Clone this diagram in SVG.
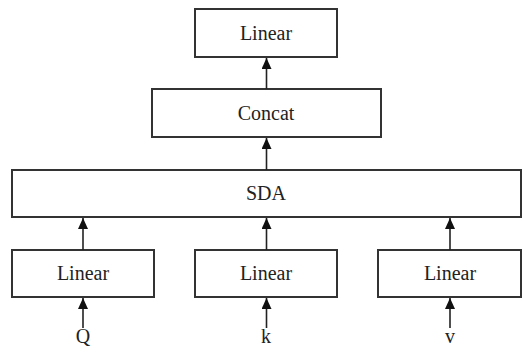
<svg xmlns="http://www.w3.org/2000/svg" width="532" height="348" viewBox="0 0 532 348">
<defs>
<marker id="ah" markerWidth="11" markerHeight="10" refX="11" refY="5" orient="auto" markerUnits="userSpaceOnUse" viewBox="0 0 11 10">
<path d="M0,0 L11,5 L0,10 Z" fill="#111"/>
</marker>
<style>
.box{fill:#fff;stroke:#333;stroke-width:2}
.lbl{font-family:"Liberation Serif","Times New Roman",serif;font-size:20px;fill:#222;text-anchor:middle}
.con{stroke:#222;stroke-width:1.6;fill:none;marker-end:url(#ah)}
</style>
</defs>
<rect width="532" height="348" fill="#fff"/>
<g id="linear-top"><rect class="box" x="195" y="9" width="142" height="48"/><text class="lbl" x="266" y="39.5">Linear</text></g>
<g id="concat"><rect class="box" x="152" y="89" width="229" height="48"/><text class="lbl" x="266" y="119.5">Concat</text></g>
<g id="sda"><rect class="box" x="12" y="170" width="509" height="47"/><text class="lbl" x="266" y="200">SDA</text></g>
<g id="linear-q"><rect class="box" x="12" y="250" width="142" height="47"/><text class="lbl" x="83" y="280">Linear</text></g>
<g id="linear-k"><rect class="box" x="195" y="250" width="142" height="47"/><text class="lbl" x="266" y="280">Linear</text></g>
<g id="linear-v"><rect class="box" x="378" y="250" width="143" height="47"/><text class="lbl" x="450" y="280">Linear</text></g>
<g id="input-q"><text class="lbl" x="83" y="343">Q</text></g>
<g id="input-k"><text class="lbl" x="266" y="343">k</text></g>
<g id="input-v"><text class="lbl" x="450" y="343">v</text></g>
<g id="connectors">
<line class="con" x1="266.5" y1="89" x2="266.5" y2="58"/>
<line class="con" x1="266.5" y1="170" x2="266.5" y2="138"/>
<line class="con" x1="83" y1="250" x2="83" y2="218"/>
<line class="con" x1="266.5" y1="250" x2="266.5" y2="218"/>
<line class="con" x1="450" y1="250" x2="450" y2="218"/>
<line class="con" x1="83" y1="328" x2="83" y2="298"/>
<line class="con" x1="266.5" y1="328" x2="266.5" y2="298"/>
<line class="con" x1="450" y1="328" x2="450" y2="298"/>
</g>
</svg>
